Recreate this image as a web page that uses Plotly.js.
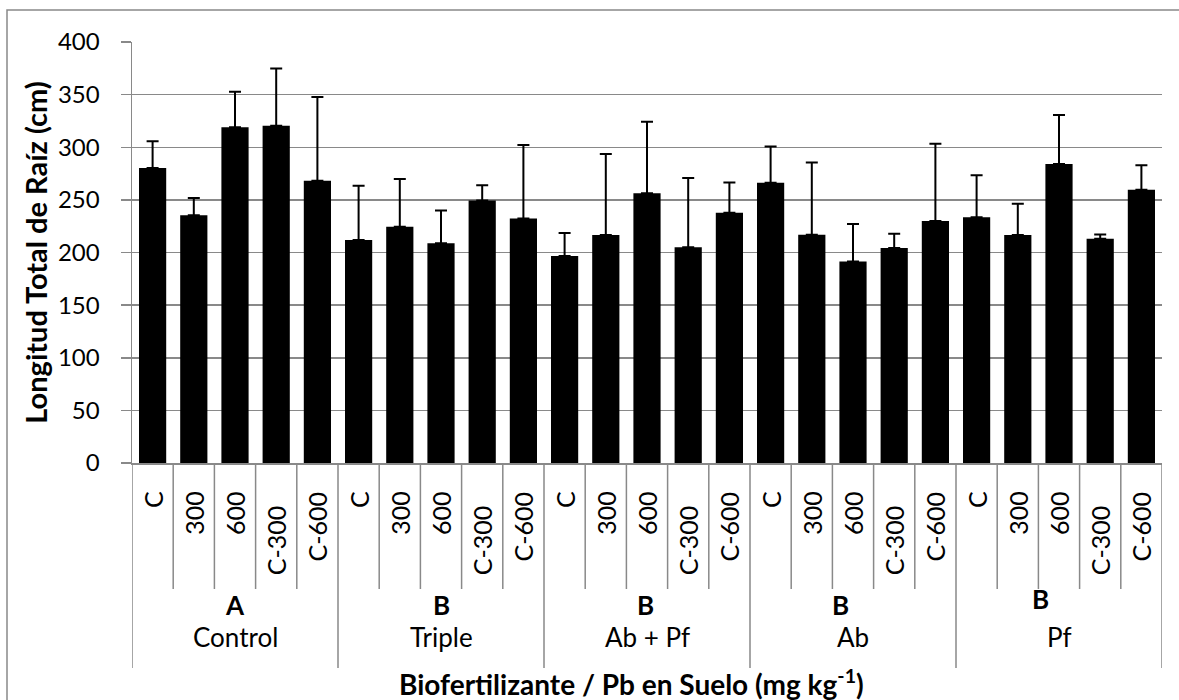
<!DOCTYPE html>
<html>
<head>
<meta charset="utf-8">
<script src="https://cdn.plot.ly/plotly-3.0.1.min.js"></script>
<style>html,body{margin:0;padding:0;background:#fff;}#chart{width:1179px;height:700px;}</style>
</head>
<body>
<div id="chart"></div>
<script>
// ---- data ----
const groups = ['Control', 'Triple', 'Ab + Pf', 'Ab', 'Pf'];
const groupLetters = ['A', 'B', 'B', 'B', 'B'];
const doses = ['C', '300', '600', 'C-300', 'C-600'];
const means = [
  280.3, 235.3, 318.9, 320.5, 268.2,
  211.9, 224.5, 208.7, 249.5, 232.4,
  196.7, 216.6, 256.2, 204.9, 237.8,
  266.3, 216.9, 191.5, 204.3, 229.9,
  233.4, 216.6, 284.1, 213.1, 259.7
];
const errorsUp = [
  25.3, 16.5, 33.9, 54.4, 79.5,
  51.6, 45.3, 31.3, 14.3, 69.7,
  21.8, 77.0, 68.1, 65.9, 28.8,
  34.5, 68.7, 35.6, 13.6, 73.5,
  39.9, 29.8, 46.5, 4.1, 23.1
];
const yTicks = [0, 50, 100, 150, 200, 250, 300, 350, 400];

// ---- build ----
const FONT = 'Lato, "Open Sans", sans-serif';
const GRAY = '#898989';
const n = groups.length * doses.length;
const xs = [];
const subLabels = [];
for (let g = 0; g < groups.length; g++) {
  for (let d = 0; d < doses.length; d++) {
    xs.push(g * doses.length + d);
    subLabels.push(doses[d]);
  }
}

const trace = {
  type: 'bar',
  x: xs,
  y: means,
  marker: {color: '#000000', line: {width: 0}},
  error_y: {
    type: 'data', symmetric: false,
    array: errorsUp, arrayminus: errorsUp.map(() => 0),
    color: '#000000', thickness: 2, width: 6
  },
  hoverinfo: 'none'
};

const shapes = [];
// outer chart border (top and left visible)
shapes.push({
  type: 'rect', xref: 'paper', yref: 'paper',
  xsizemode: 'pixel', ysizemode: 'pixel', xanchor: 0, yanchor: 1,
  x0: -125, x1: 1200, y0: 32, y1: -720,
  line: {color: GRAY, width: 1.5}, fillcolor: 'rgba(0,0,0,0)', layer: 'below'
});
// category separators below the axis
for (let i = 0; i <= n; i++) {
  const isGroup = (i % doses.length === 0);
  shapes.push({
    type: 'line', xref: 'x', yref: 'paper',
    ysizemode: 'pixel', yanchor: 0,
    x0: i - 0.5, x1: i - 0.5, y0: 0, y1: isGroup ? -205 : -126,
    line: {color: GRAY, width: 1.5}
  });
}

const annotations = [];
// dose labels (rotated)
for (let i = 0; i < n; i++) {
  annotations.push({
    x: xs[i], y: 0, xref: 'x', yref: 'paper',
    text: subLabels[i], showarrow: false, textangle: -90,
    xanchor: 'center', yanchor: 'top',
    yshift: subLabels[i] === 'C-300' ? -40 : -26,
    font: {family: FONT, size: 25, color: '#000'}
  });
}
// group letters and names
const letterDx = [0, 0, -2, -13, -19];
const letterDy = [0, 0, 0, 0, 6];
for (let g = 0; g < groups.length; g++) {
  const cx = g * doses.length + (doses.length - 1) / 2;
  annotations.push({
    x: cx, y: 0, xref: 'x', yref: 'paper',
    text: '<b>' + groupLetters[g] + '</b>', showarrow: false,
    xanchor: 'center', yanchor: 'middle',
    xshift: letterDx[g], yshift: -142 + letterDy[g],
    font: {family: FONT, size: 26, color: '#000'}
  });
  annotations.push({
    x: cx, y: 0, xref: 'x', yref: 'paper',
    text: groups[g], showarrow: false,
    xanchor: 'center', yanchor: 'middle',
    yshift: -174,
    font: {family: FONT, size: 26, color: '#000'}
  });
}
// x-axis title
annotations.push({
  x: 0.485, y: 0, xref: 'paper', yref: 'paper',
  text: '<b>Biofertilizante / Pb en Suelo (mg kg<sup>-1</sup>)</b>', showarrow: false,
  xanchor: 'center', yanchor: 'middle', yshift: -219,
  font: {family: FONT, size: 28, color: '#000'}
});

const layout = {
  width: 1179, height: 700,
  margin: {l: 132, r: 16.5, t: 42, b: 237, pad: 0},
  paper_bgcolor: '#ffffff', plot_bgcolor: '#ffffff',
  showlegend: false,
  bargap: 0.34,
  font: {family: FONT, size: 24, color: '#000'},
  xaxis: {
    range: [-0.5, n - 0.5], showticklabels: false, ticks: '',
    showgrid: false, zeroline: false,
    showline: true, linecolor: GRAY, linewidth: 1.5, fixedrange: true
  },
  yaxis: {
    range: [0, 400], tickvals: yTicks, ticktext: yTicks.map(String),
    ticks: 'outside', ticklen: 10, tickcolor: GRAY, tickwidth: 1.5,
    ticklabelstandoff: 16,
    showgrid: true, gridcolor: GRAY, gridwidth: 1.5,
    zeroline: false, showline: true, linecolor: GRAY, linewidth: 1.5,
    tickfont: {family: FONT, size: 24, color: '#000'},
    title: {text: '<b>Longitud Total de Raíz (cm)</b>', font: {family: FONT, size: 29, color: '#000'}, standoff: 2},
    fixedrange: true
  },
  shapes: shapes,
  annotations: annotations
};

Plotly.newPlot('chart', [trace], layout, {displayModeBar: false, staticPlot: true});
</script>
</body>
</html>
